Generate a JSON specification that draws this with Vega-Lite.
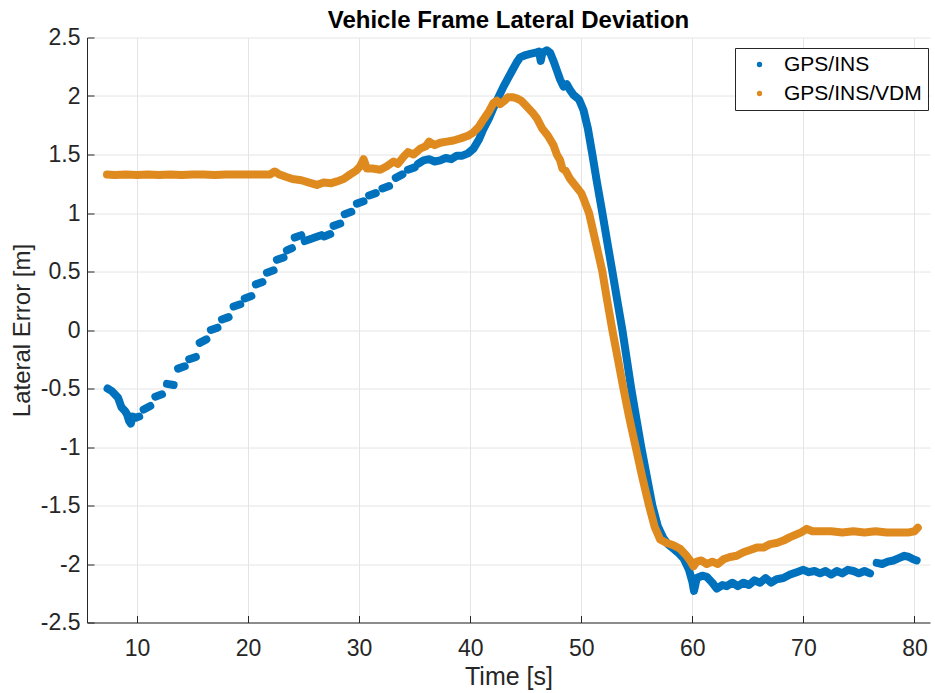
{
  "$schema": "https://vega.github.io/schema/vega-lite/v6.json",
  "width": 843,
  "height": 585,
  "autosize": {"type": "none"},
  "padding": {"left": 87, "top": 37.5, "right": 5, "bottom": 70},
  "background": "white",
  "title": {"text": "Vehicle Frame Lateral Deviation", "fontSize": 24, "fontWeight": "bold", "font": "Liberation Sans", "color": "#000000", "offset": -6, "anchor": "middle"},
  "config": {"view": {"stroke": null}, "font": "Liberation Sans"},
  "datasets": {
    "blue": [
      {"s": "GPS/INS", "seg": "b0", "t": 7.35, "y": -0.5}, {"s": "GPS/INS", "seg": "b0", "t": 7.7, "y": -0.52}, {"s": "GPS/INS", "seg": "b0", "t": 8.0, "y": -0.55}, {"s": "GPS/INS", "seg": "b0", "t": 8.3, "y": -0.58}, {"s": "GPS/INS", "seg": "b0", "t": 8.6, "y": -0.66}, {"s": "GPS/INS", "seg": "b0", "t": 8.9, "y": -0.69}, {"s": "GPS/INS", "seg": "b0", "t": 9.1, "y": -0.72}, {"s": "GPS/INS", "seg": "b0", "t": 9.3, "y": -0.78}, {"s": "GPS/INS", "seg": "b0", "t": 9.45, "y": -0.8}, {"s": "GPS/INS", "seg": "b0", "t": 9.6, "y": -0.74}, {"s": "GPS/INS", "seg": "b0", "t": 9.9, "y": -0.75}, {"s": "GPS/INS", "seg": "b0", "t": 10.2, "y": -0.74},
      {"s": "GPS/INS", "seg": "b1", "t": 10.6, "y": -0.68}, {"s": "GPS/INS", "seg": "b1", "t": 11.2, "y": -0.65},
      {"s": "GPS/INS", "seg": "b2", "t": 11.65, "y": -0.57}, {"s": "GPS/INS", "seg": "b2", "t": 12.25, "y": -0.55},
      {"s": "GPS/INS", "seg": "b3", "t": 12.7, "y": -0.46}, {"s": "GPS/INS", "seg": "b3", "t": 13.3, "y": -0.47},
      {"s": "GPS/INS", "seg": "b4", "t": 13.7, "y": -0.33}, {"s": "GPS/INS", "seg": "b4", "t": 14.3, "y": -0.31},
      {"s": "GPS/INS", "seg": "b5", "t": 14.7, "y": -0.25}, {"s": "GPS/INS", "seg": "b5", "t": 15.3, "y": -0.23},
      {"s": "GPS/INS", "seg": "b6", "t": 15.65, "y": -0.11}, {"s": "GPS/INS", "seg": "b6", "t": 16.25, "y": -0.08},
      {"s": "GPS/INS", "seg": "b7", "t": 16.65, "y": 0.0}, {"s": "GPS/INS", "seg": "b7", "t": 17.25, "y": 0.02},
      {"s": "GPS/INS", "seg": "b8", "t": 17.65, "y": 0.09}, {"s": "GPS/INS", "seg": "b8", "t": 18.25, "y": 0.11},
      {"s": "GPS/INS", "seg": "b9", "t": 18.7, "y": 0.2}, {"s": "GPS/INS", "seg": "b9", "t": 19.3, "y": 0.22},
      {"s": "GPS/INS", "seg": "b10", "t": 19.7, "y": 0.27}, {"s": "GPS/INS", "seg": "b10", "t": 20.3, "y": 0.29},
      {"s": "GPS/INS", "seg": "b11", "t": 20.7, "y": 0.39}, {"s": "GPS/INS", "seg": "b11", "t": 21.3, "y": 0.41},
      {"s": "GPS/INS", "seg": "b12", "t": 21.7, "y": 0.49}, {"s": "GPS/INS", "seg": "b12", "t": 22.3, "y": 0.51},
      {"s": "GPS/INS", "seg": "b13", "t": 22.6, "y": 0.6}, {"s": "GPS/INS", "seg": "b13", "t": 23.2, "y": 0.62},
      {"s": "GPS/INS", "seg": "b14", "t": 23.5, "y": 0.68}, {"s": "GPS/INS", "seg": "b14", "t": 23.95, "y": 0.7},
      {"s": "GPS/INS", "seg": "b15", "t": 24.2, "y": 0.79}, {"s": "GPS/INS", "seg": "b15", "t": 24.8, "y": 0.81},
      {"s": "GPS/INS", "seg": "b16", "t": 25.1, "y": 0.76}, {"s": "GPS/INS", "seg": "b16", "t": 25.7, "y": 0.78},
      {"s": "GPS/INS", "seg": "b17", "t": 26.0, "y": 0.79}, {"s": "GPS/INS", "seg": "b17", "t": 26.6, "y": 0.81},
      {"s": "GPS/INS", "seg": "b18", "t": 26.85, "y": 0.8}, {"s": "GPS/INS", "seg": "b18", "t": 27.4, "y": 0.82},
      {"s": "GPS/INS", "seg": "b19", "t": 27.7, "y": 0.89}, {"s": "GPS/INS", "seg": "b19", "t": 28.3, "y": 0.91},
      {"s": "GPS/INS", "seg": "b20", "t": 28.7, "y": 0.99}, {"s": "GPS/INS", "seg": "b20", "t": 29.3, "y": 1.01},
      {"s": "GPS/INS", "seg": "b21", "t": 29.8, "y": 1.08}, {"s": "GPS/INS", "seg": "b21", "t": 30.4, "y": 1.1},
      {"s": "GPS/INS", "seg": "b22", "t": 30.9, "y": 1.15}, {"s": "GPS/INS", "seg": "b22", "t": 31.5, "y": 1.17},
      {"s": "GPS/INS", "seg": "b23", "t": 32.1, "y": 1.21}, {"s": "GPS/INS", "seg": "b23", "t": 32.7, "y": 1.23},
      {"s": "GPS/INS", "seg": "b24", "t": 33.3, "y": 1.3}, {"s": "GPS/INS", "seg": "b24", "t": 33.9, "y": 1.33},
      {"s": "GPS/INS", "seg": "b25", "t": 34.4, "y": 1.37}, {"s": "GPS/INS", "seg": "b25", "t": 35.0, "y": 1.39},
      {"s": "GPS/INS", "seg": "b26", "t": 35.3, "y": 1.42}, {"s": "GPS/INS", "seg": "b26", "t": 35.8, "y": 1.45}, {"s": "GPS/INS", "seg": "b26", "t": 36.3, "y": 1.46}, {"s": "GPS/INS", "seg": "b26", "t": 36.8, "y": 1.44}, {"s": "GPS/INS", "seg": "b26", "t": 37.3, "y": 1.45}, {"s": "GPS/INS", "seg": "b26", "t": 37.8, "y": 1.47}, {"s": "GPS/INS", "seg": "b26", "t": 38.3, "y": 1.46}, {"s": "GPS/INS", "seg": "b26", "t": 38.8, "y": 1.49}, {"s": "GPS/INS", "seg": "b26", "t": 39.3, "y": 1.49}, {"s": "GPS/INS", "seg": "b26", "t": 39.8, "y": 1.51}, {"s": "GPS/INS", "seg": "b26", "t": 40.3, "y": 1.55}, {"s": "GPS/INS", "seg": "b26", "t": 40.8, "y": 1.63}, {"s": "GPS/INS", "seg": "b26", "t": 41.2, "y": 1.72}, {"s": "GPS/INS", "seg": "b26", "t": 41.7, "y": 1.81}, {"s": "GPS/INS", "seg": "b26", "t": 42.1, "y": 1.9}, {"s": "GPS/INS", "seg": "b26", "t": 42.6, "y": 2.0}, {"s": "GPS/INS", "seg": "b26", "t": 43.0, "y": 2.08}, {"s": "GPS/INS", "seg": "b26", "t": 43.4, "y": 2.15}, {"s": "GPS/INS", "seg": "b26", "t": 43.8, "y": 2.22}, {"s": "GPS/INS", "seg": "b26", "t": 44.2, "y": 2.29}, {"s": "GPS/INS", "seg": "b26", "t": 44.5, "y": 2.33}, {"s": "GPS/INS", "seg": "b26", "t": 45.0, "y": 2.35}, {"s": "GPS/INS", "seg": "b26", "t": 45.4, "y": 2.36}, {"s": "GPS/INS", "seg": "b26", "t": 45.9, "y": 2.37}, {"s": "GPS/INS", "seg": "b26", "t": 46.2, "y": 2.38}, {"s": "GPS/INS", "seg": "b26", "t": 46.35, "y": 2.3}, {"s": "GPS/INS", "seg": "b26", "t": 46.5, "y": 2.37}, {"s": "GPS/INS", "seg": "b26", "t": 46.9, "y": 2.39}, {"s": "GPS/INS", "seg": "b26", "t": 47.2, "y": 2.37}, {"s": "GPS/INS", "seg": "b26", "t": 47.5, "y": 2.3}, {"s": "GPS/INS", "seg": "b26", "t": 47.8, "y": 2.22}, {"s": "GPS/INS", "seg": "b26", "t": 48.1, "y": 2.14}, {"s": "GPS/INS", "seg": "b26", "t": 48.4, "y": 2.08}, {"s": "GPS/INS", "seg": "b26", "t": 48.7, "y": 2.1}, {"s": "GPS/INS", "seg": "b26", "t": 49.0, "y": 2.05}, {"s": "GPS/INS", "seg": "b26", "t": 49.3, "y": 2.01}, {"s": "GPS/INS", "seg": "b26", "t": 49.8, "y": 1.97}, {"s": "GPS/INS", "seg": "b26", "t": 50.2, "y": 1.88}, {"s": "GPS/INS", "seg": "b26", "t": 50.6, "y": 1.72}, {"s": "GPS/INS", "seg": "b26", "t": 51.0, "y": 1.5}, {"s": "GPS/INS", "seg": "b26", "t": 51.4, "y": 1.27}, {"s": "GPS/INS", "seg": "b26", "t": 51.9, "y": 1.0}, {"s": "GPS/INS", "seg": "b26", "t": 52.4, "y": 0.72}, {"s": "GPS/INS", "seg": "b26", "t": 52.8, "y": 0.5}, {"s": "GPS/INS", "seg": "b26", "t": 53.3, "y": 0.22}, {"s": "GPS/INS", "seg": "b26", "t": 53.7, "y": 0.0}, {"s": "GPS/INS", "seg": "b26", "t": 54.1, "y": -0.25}, {"s": "GPS/INS", "seg": "b26", "t": 54.5, "y": -0.5}, {"s": "GPS/INS", "seg": "b26", "t": 55.0, "y": -0.78}, {"s": "GPS/INS", "seg": "b26", "t": 55.4, "y": -1.0}, {"s": "GPS/INS", "seg": "b26", "t": 55.9, "y": -1.25}, {"s": "GPS/INS", "seg": "b26", "t": 56.4, "y": -1.5}, {"s": "GPS/INS", "seg": "b26", "t": 56.9, "y": -1.68}, {"s": "GPS/INS", "seg": "b26", "t": 57.4, "y": -1.78}, {"s": "GPS/INS", "seg": "b26", "t": 57.8, "y": -1.83}, {"s": "GPS/INS", "seg": "b26", "t": 58.3, "y": -1.87}, {"s": "GPS/INS", "seg": "b26", "t": 58.8, "y": -1.91}, {"s": "GPS/INS", "seg": "b26", "t": 59.2, "y": -1.95}, {"s": "GPS/INS", "seg": "b26", "t": 59.7, "y": -2.05}, {"s": "GPS/INS", "seg": "b26", "t": 60.0, "y": -2.15}, {"s": "GPS/INS", "seg": "b26", "t": 60.15, "y": -2.23}, {"s": "GPS/INS", "seg": "b26", "t": 60.4, "y": -2.12}, {"s": "GPS/INS", "seg": "b26", "t": 60.9, "y": -2.1}, {"s": "GPS/INS", "seg": "b26", "t": 61.3, "y": -2.11}, {"s": "GPS/INS", "seg": "b26", "t": 61.8, "y": -2.16}, {"s": "GPS/INS", "seg": "b26", "t": 62.2, "y": -2.21}, {"s": "GPS/INS", "seg": "b26", "t": 62.7, "y": -2.18}, {"s": "GPS/INS", "seg": "b26", "t": 63.1, "y": -2.19}, {"s": "GPS/INS", "seg": "b26", "t": 63.6, "y": -2.16}, {"s": "GPS/INS", "seg": "b26", "t": 64.1, "y": -2.19}, {"s": "GPS/INS", "seg": "b26", "t": 64.6, "y": -2.16}, {"s": "GPS/INS", "seg": "b26", "t": 65.1, "y": -2.18}, {"s": "GPS/INS", "seg": "b26", "t": 65.6, "y": -2.14}, {"s": "GPS/INS", "seg": "b26", "t": 66.1, "y": -2.16}, {"s": "GPS/INS", "seg": "b26", "t": 66.6, "y": -2.12}, {"s": "GPS/INS", "seg": "b26", "t": 67.1, "y": -2.16}, {"s": "GPS/INS", "seg": "b26", "t": 67.6, "y": -2.13}, {"s": "GPS/INS", "seg": "b26", "t": 68.2, "y": -2.12}, {"s": "GPS/INS", "seg": "b26", "t": 68.8, "y": -2.09}, {"s": "GPS/INS", "seg": "b26", "t": 69.4, "y": -2.07}, {"s": "GPS/INS", "seg": "b26", "t": 70.0, "y": -2.05}, {"s": "GPS/INS", "seg": "b26", "t": 70.5, "y": -2.07}, {"s": "GPS/INS", "seg": "b26", "t": 71.0, "y": -2.06}, {"s": "GPS/INS", "seg": "b26", "t": 71.5, "y": -2.08}, {"s": "GPS/INS", "seg": "b26", "t": 72.0, "y": -2.06}, {"s": "GPS/INS", "seg": "b26", "t": 72.5, "y": -2.09}, {"s": "GPS/INS", "seg": "b26", "t": 73.0, "y": -2.06}, {"s": "GPS/INS", "seg": "b26", "t": 73.5, "y": -2.08}, {"s": "GPS/INS", "seg": "b26", "t": 74.0, "y": -2.05}, {"s": "GPS/INS", "seg": "b26", "t": 74.5, "y": -2.06}, {"s": "GPS/INS", "seg": "b26", "t": 75.0, "y": -2.08}, {"s": "GPS/INS", "seg": "b26", "t": 75.5, "y": -2.06}, {"s": "GPS/INS", "seg": "b26", "t": 76.0, "y": -2.08},
      {"s": "GPS/INS", "seg": "b27", "t": 76.6, "y": -1.99}, {"s": "GPS/INS", "seg": "b27", "t": 77.1, "y": -2.0}, {"s": "GPS/INS", "seg": "b27", "t": 77.6, "y": -1.98}, {"s": "GPS/INS", "seg": "b27", "t": 78.1, "y": -1.97}, {"s": "GPS/INS", "seg": "b27", "t": 78.6, "y": -1.95}, {"s": "GPS/INS", "seg": "b27", "t": 79.1, "y": -1.93}, {"s": "GPS/INS", "seg": "b27", "t": 79.5, "y": -1.94}, {"s": "GPS/INS", "seg": "b27", "t": 79.9, "y": -1.96}, {"s": "GPS/INS", "seg": "b27", "t": 80.2, "y": -1.97}
    ],
    "orange": [
      {"s": "GPS/INS/VDM", "seg": "o", "t": 7.3, "y": 1.33}, {"s": "GPS/INS/VDM", "seg": "o", "t": 8, "y": 1.325}, {"s": "GPS/INS/VDM", "seg": "o", "t": 9, "y": 1.33}, {"s": "GPS/INS/VDM", "seg": "o", "t": 10, "y": 1.325}, {"s": "GPS/INS/VDM", "seg": "o", "t": 11, "y": 1.33}, {"s": "GPS/INS/VDM", "seg": "o", "t": 12, "y": 1.325}, {"s": "GPS/INS/VDM", "seg": "o", "t": 13, "y": 1.33}, {"s": "GPS/INS/VDM", "seg": "o", "t": 14, "y": 1.325}, {"s": "GPS/INS/VDM", "seg": "o", "t": 15, "y": 1.33}, {"s": "GPS/INS/VDM", "seg": "o", "t": 16, "y": 1.33}, {"s": "GPS/INS/VDM", "seg": "o", "t": 17, "y": 1.325}, {"s": "GPS/INS/VDM", "seg": "o", "t": 18, "y": 1.33}, {"s": "GPS/INS/VDM", "seg": "o", "t": 19, "y": 1.33}, {"s": "GPS/INS/VDM", "seg": "o", "t": 20, "y": 1.33}, {"s": "GPS/INS/VDM", "seg": "o", "t": 21, "y": 1.33}, {"s": "GPS/INS/VDM", "seg": "o", "t": 22.0, "y": 1.33}, {"s": "GPS/INS/VDM", "seg": "o", "t": 22.4, "y": 1.355}, {"s": "GPS/INS/VDM", "seg": "o", "t": 22.8, "y": 1.33}, {"s": "GPS/INS/VDM", "seg": "o", "t": 23.4, "y": 1.31}, {"s": "GPS/INS/VDM", "seg": "o", "t": 24.0, "y": 1.29}, {"s": "GPS/INS/VDM", "seg": "o", "t": 24.8, "y": 1.28}, {"s": "GPS/INS/VDM", "seg": "o", "t": 25.5, "y": 1.26}, {"s": "GPS/INS/VDM", "seg": "o", "t": 26.2, "y": 1.24}, {"s": "GPS/INS/VDM", "seg": "o", "t": 26.8, "y": 1.26}, {"s": "GPS/INS/VDM", "seg": "o", "t": 27.5, "y": 1.255}, {"s": "GPS/INS/VDM", "seg": "o", "t": 28.0, "y": 1.27}, {"s": "GPS/INS/VDM", "seg": "o", "t": 28.6, "y": 1.29}, {"s": "GPS/INS/VDM", "seg": "o", "t": 29.2, "y": 1.33}, {"s": "GPS/INS/VDM", "seg": "o", "t": 29.7, "y": 1.36}, {"s": "GPS/INS/VDM", "seg": "o", "t": 30.1, "y": 1.4}, {"s": "GPS/INS/VDM", "seg": "o", "t": 30.4, "y": 1.46}, {"s": "GPS/INS/VDM", "seg": "o", "t": 30.7, "y": 1.38}, {"s": "GPS/INS/VDM", "seg": "o", "t": 31.2, "y": 1.38}, {"s": "GPS/INS/VDM", "seg": "o", "t": 31.9, "y": 1.37}, {"s": "GPS/INS/VDM", "seg": "o", "t": 32.5, "y": 1.4}, {"s": "GPS/INS/VDM", "seg": "o", "t": 33.1, "y": 1.44}, {"s": "GPS/INS/VDM", "seg": "o", "t": 33.5, "y": 1.42}, {"s": "GPS/INS/VDM", "seg": "o", "t": 34.0, "y": 1.48}, {"s": "GPS/INS/VDM", "seg": "o", "t": 34.4, "y": 1.52}, {"s": "GPS/INS/VDM", "seg": "o", "t": 34.9, "y": 1.5}, {"s": "GPS/INS/VDM", "seg": "o", "t": 35.5, "y": 1.55}, {"s": "GPS/INS/VDM", "seg": "o", "t": 36.0, "y": 1.57}, {"s": "GPS/INS/VDM", "seg": "o", "t": 36.3, "y": 1.61}, {"s": "GPS/INS/VDM", "seg": "o", "t": 36.8, "y": 1.58}, {"s": "GPS/INS/VDM", "seg": "o", "t": 37.3, "y": 1.6}, {"s": "GPS/INS/VDM", "seg": "o", "t": 37.9, "y": 1.61}, {"s": "GPS/INS/VDM", "seg": "o", "t": 38.5, "y": 1.62}, {"s": "GPS/INS/VDM", "seg": "o", "t": 39.2, "y": 1.64}, {"s": "GPS/INS/VDM", "seg": "o", "t": 39.8, "y": 1.66}, {"s": "GPS/INS/VDM", "seg": "o", "t": 40.3, "y": 1.69}, {"s": "GPS/INS/VDM", "seg": "o", "t": 40.8, "y": 1.74}, {"s": "GPS/INS/VDM", "seg": "o", "t": 41.2, "y": 1.8}, {"s": "GPS/INS/VDM", "seg": "o", "t": 41.7, "y": 1.87}, {"s": "GPS/INS/VDM", "seg": "o", "t": 42.1, "y": 1.94}, {"s": "GPS/INS/VDM", "seg": "o", "t": 42.4, "y": 1.96}, {"s": "GPS/INS/VDM", "seg": "o", "t": 42.7, "y": 1.93}, {"s": "GPS/INS/VDM", "seg": "o", "t": 43.1, "y": 1.96}, {"s": "GPS/INS/VDM", "seg": "o", "t": 43.4, "y": 1.99}, {"s": "GPS/INS/VDM", "seg": "o", "t": 43.8, "y": 1.99}, {"s": "GPS/INS/VDM", "seg": "o", "t": 44.2, "y": 1.98}, {"s": "GPS/INS/VDM", "seg": "o", "t": 44.6, "y": 1.96}, {"s": "GPS/INS/VDM", "seg": "o", "t": 45.1, "y": 1.91}, {"s": "GPS/INS/VDM", "seg": "o", "t": 45.6, "y": 1.86}, {"s": "GPS/INS/VDM", "seg": "o", "t": 46.0, "y": 1.81}, {"s": "GPS/INS/VDM", "seg": "o", "t": 46.5, "y": 1.72}, {"s": "GPS/INS/VDM", "seg": "o", "t": 47.0, "y": 1.66}, {"s": "GPS/INS/VDM", "seg": "o", "t": 47.5, "y": 1.58}, {"s": "GPS/INS/VDM", "seg": "o", "t": 47.8, "y": 1.5}, {"s": "GPS/INS/VDM", "seg": "o", "t": 48.1, "y": 1.45}, {"s": "GPS/INS/VDM", "seg": "o", "t": 48.3, "y": 1.38}, {"s": "GPS/INS/VDM", "seg": "o", "t": 48.6, "y": 1.36}, {"s": "GPS/INS/VDM", "seg": "o", "t": 49.0, "y": 1.29}, {"s": "GPS/INS/VDM", "seg": "o", "t": 49.5, "y": 1.23}, {"s": "GPS/INS/VDM", "seg": "o", "t": 50.0, "y": 1.17}, {"s": "GPS/INS/VDM", "seg": "o", "t": 50.3, "y": 1.1}, {"s": "GPS/INS/VDM", "seg": "o", "t": 50.7, "y": 1.0}, {"s": "GPS/INS/VDM", "seg": "o", "t": 51.3, "y": 0.75}, {"s": "GPS/INS/VDM", "seg": "o", "t": 51.9, "y": 0.5}, {"s": "GPS/INS/VDM", "seg": "o", "t": 52.3, "y": 0.27}, {"s": "GPS/INS/VDM", "seg": "o", "t": 52.8, "y": 0.0}, {"s": "GPS/INS/VDM", "seg": "o", "t": 53.3, "y": -0.25}, {"s": "GPS/INS/VDM", "seg": "o", "t": 53.8, "y": -0.5}, {"s": "GPS/INS/VDM", "seg": "o", "t": 54.3, "y": -0.74}, {"s": "GPS/INS/VDM", "seg": "o", "t": 54.9, "y": -1.0}, {"s": "GPS/INS/VDM", "seg": "o", "t": 55.5, "y": -1.26}, {"s": "GPS/INS/VDM", "seg": "o", "t": 56.1, "y": -1.5}, {"s": "GPS/INS/VDM", "seg": "o", "t": 56.6, "y": -1.68}, {"s": "GPS/INS/VDM", "seg": "o", "t": 57.1, "y": -1.79}, {"s": "GPS/INS/VDM", "seg": "o", "t": 57.7, "y": -1.82}, {"s": "GPS/INS/VDM", "seg": "o", "t": 58.3, "y": -1.84}, {"s": "GPS/INS/VDM", "seg": "o", "t": 58.9, "y": -1.87}, {"s": "GPS/INS/VDM", "seg": "o", "t": 59.4, "y": -1.92}, {"s": "GPS/INS/VDM", "seg": "o", "t": 59.8, "y": -1.97}, {"s": "GPS/INS/VDM", "seg": "o", "t": 60.1, "y": -2.02}, {"s": "GPS/INS/VDM", "seg": "o", "t": 60.4, "y": -1.98}, {"s": "GPS/INS/VDM", "seg": "o", "t": 60.8, "y": -1.97}, {"s": "GPS/INS/VDM", "seg": "o", "t": 61.3, "y": -2.0}, {"s": "GPS/INS/VDM", "seg": "o", "t": 61.8, "y": -1.98}, {"s": "GPS/INS/VDM", "seg": "o", "t": 62.3, "y": -2.0}, {"s": "GPS/INS/VDM", "seg": "o", "t": 62.8, "y": -1.96}, {"s": "GPS/INS/VDM", "seg": "o", "t": 63.4, "y": -1.94}, {"s": "GPS/INS/VDM", "seg": "o", "t": 64.0, "y": -1.93}, {"s": "GPS/INS/VDM", "seg": "o", "t": 64.6, "y": -1.9}, {"s": "GPS/INS/VDM", "seg": "o", "t": 65.2, "y": -1.88}, {"s": "GPS/INS/VDM", "seg": "o", "t": 65.8, "y": -1.86}, {"s": "GPS/INS/VDM", "seg": "o", "t": 66.4, "y": -1.86}, {"s": "GPS/INS/VDM", "seg": "o", "t": 67.0, "y": -1.83}, {"s": "GPS/INS/VDM", "seg": "o", "t": 67.6, "y": -1.82}, {"s": "GPS/INS/VDM", "seg": "o", "t": 68.2, "y": -1.8}, {"s": "GPS/INS/VDM", "seg": "o", "t": 68.8, "y": -1.77}, {"s": "GPS/INS/VDM", "seg": "o", "t": 69.3, "y": -1.75}, {"s": "GPS/INS/VDM", "seg": "o", "t": 69.8, "y": -1.73}, {"s": "GPS/INS/VDM", "seg": "o", "t": 70.3, "y": -1.7}, {"s": "GPS/INS/VDM", "seg": "o", "t": 70.8, "y": -1.72}, {"s": "GPS/INS/VDM", "seg": "o", "t": 71.5, "y": -1.72}, {"s": "GPS/INS/VDM", "seg": "o", "t": 72.5, "y": -1.72}, {"s": "GPS/INS/VDM", "seg": "o", "t": 73.5, "y": -1.73}, {"s": "GPS/INS/VDM", "seg": "o", "t": 74.5, "y": -1.72}, {"s": "GPS/INS/VDM", "seg": "o", "t": 75.5, "y": -1.73}, {"s": "GPS/INS/VDM", "seg": "o", "t": 76.5, "y": -1.72}, {"s": "GPS/INS/VDM", "seg": "o", "t": 77.5, "y": -1.73}, {"s": "GPS/INS/VDM", "seg": "o", "t": 78.5, "y": -1.73}, {"s": "GPS/INS/VDM", "seg": "o", "t": 79.5, "y": -1.73}, {"s": "GPS/INS/VDM", "seg": "o", "t": 80.0, "y": -1.72}, {"s": "GPS/INS/VDM", "seg": "o", "t": 80.3, "y": -1.69}
    ]
  },
  "layer": [
    {
      "data": {"name": "blue"},
      "mark": {"type": "line", "strokeWidth": 8, "strokeCap": "round", "strokeJoin": "round"},
      "encoding": {
        "x": {"field": "t", "type": "quantitative", "scale": {"domain": [5.5, 81.4], "nice": false, "zero": false},
          "axis": {"values": [10, 20, 30, 40, 50, 60, 70, 80], "title": "Time [s]", "titleFontSize": 25, "titleFontWeight": "normal", "titleColor": "#262626", "titlePadding": 4, "labelFontSize": 23, "labelColor": "#262626", "labelPadding": 22, "domainColor": "#262626", "tickColor": "#262626", "tickSize": -7, "gridColor": "#e4e4e4", "labelFlush": false}},
        "y": {"field": "y", "type": "quantitative", "scale": {"domain": [-2.5, 2.5], "nice": false, "zero": false},
          "axis": {"values": [-2.5, -2, -1.5, -1, -0.5, 0, 0.5, 1, 1.5, 2, 2.5], "labelExpr": "toString(datum.value)", "title": "Lateral Error [m]", "titleFontSize": 24, "titleFontWeight": "normal", "titleColor": "#262626", "titlePadding": 6, "labelFontSize": 23, "labelColor": "#262626", "labelPadding": 14, "domainColor": "#262626", "tickColor": "#262626", "tickSize": -7, "gridColor": "#e4e4e4", "labelFlush": false}},
        "color": {"field": "s", "type": "nominal", "scale": {"domain": ["GPS/INS", "GPS/INS/VDM"], "range": ["#0072BD", "#DF8A1F"]},
          "legend": {"title": null, "orient": "none", "legendX": 648, "legendY": 10.5, "strokeColor": "#262626", "fillColor": "white", "padding": 6, "symbolType": "circle", "symbolSize": 8, "symbolStrokeWidth": 2.5, "symbolOffset": 8, "labelOffset": 14, "labelFontSize": 21, "labelColor": "#000000", "rowPadding": 7}},
        "detail": {"field": "seg", "type": "nominal"}
      }
    },
    {
      "data": {"name": "orange"},
      "mark": {"type": "line", "strokeWidth": 8, "strokeCap": "round", "strokeJoin": "round"},
      "encoding": {
        "x": {"field": "t", "type": "quantitative"},
        "y": {"field": "y", "type": "quantitative"},
        "color": {"field": "s", "type": "nominal"},
        "detail": {"field": "seg", "type": "nominal"}
      }
    }
  ]
}
